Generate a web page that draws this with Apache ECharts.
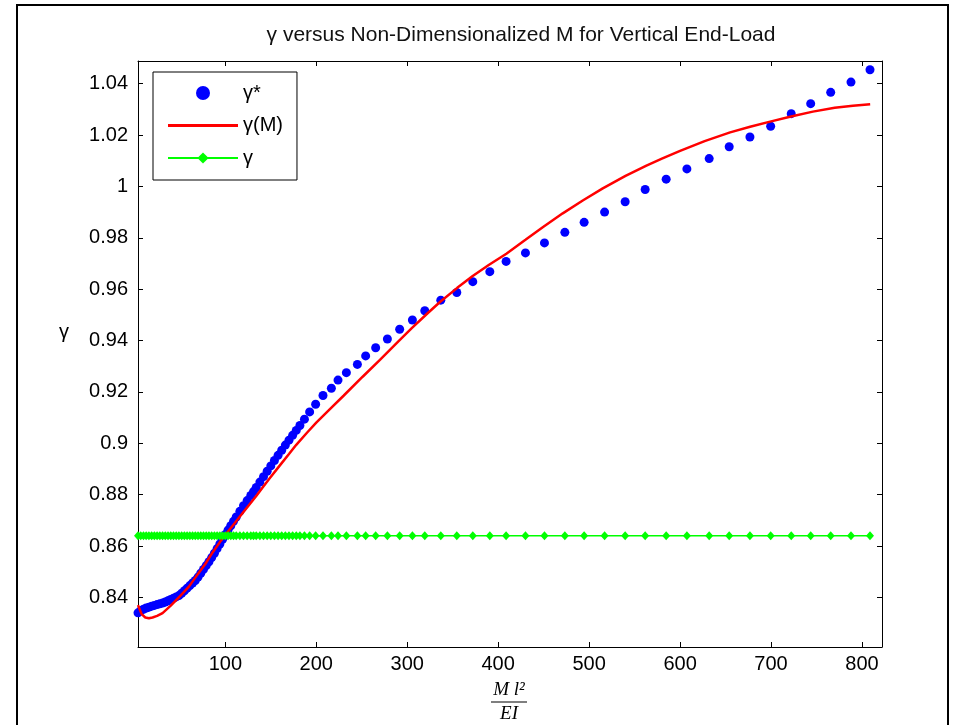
<!DOCTYPE html>
<html><head><meta charset="utf-8">
<script src="https://cdn.jsdelivr.net/npm/echarts@6/dist/echarts.min.js"></script>
<style>html,body{margin:0;padding:0;background:#fff}#c{width:964px;height:725px}</style>
</head><body><div id="c"></div>
<script>
const titleText = 'γ versus Non-Dimensionalized M for Vertical End-Load';
const seriesNames = ['γ*', 'γ(M)', 'γ'];
const xTicks = [100, 200, 300, 400, 500, 600, 700, 800];
const yTicks = [0.84, 0.86, 0.88, 0.9, 0.92, 0.94, 0.96, 0.98, 1, 1.02, 1.04];

// sample points (M l^2 / EI)
const sampleX = [
  4, 7, 10, 13, 16, 19, 22, 25, 28, 31,
  34, 37, 40, 43, 46, 49, 52, 55, 58, 61,
  64, 67, 70, 73, 76, 79, 82, 85, 88, 91,
  94, 97, 100, 103, 106, 109, 112, 116, 120, 124,
  128, 131, 134, 138, 142, 146, 150, 154, 158, 162,
  166, 170, 174, 178, 182, 187, 192.7, 199.3, 207.4, 216.6,
  223.9, 233.1, 245.2, 254.3, 265.3, 278.2, 291.7, 305.7, 319.3, 336.9,
  354.5, 372.1, 390.8, 408.7, 430.0, 450.9, 473.3, 494.5, 517.0, 539.6,
  561.6, 584.7, 607.5, 632.0, 654.0, 676.8, 699.6, 722.2, 743.6, 765.6,
  787.9, 808.8
];
// gamma* at each sample
const gammaStar = [
  0.8340, 0.8348, 0.8354, 0.8359, 0.8362, 0.8366, 0.8369, 0.8372, 0.8375, 0.8378,
  0.8382, 0.8387, 0.8392, 0.8397, 0.8402, 0.8407, 0.8416, 0.8426, 0.8436, 0.8446,
  0.8456, 0.8466, 0.8479, 0.8494, 0.8509, 0.8524, 0.8539, 0.8555, 0.8572, 0.8590,
  0.8608, 0.8626, 0.8645, 0.8662, 0.8679, 0.8696, 0.8713, 0.8735, 0.8757, 0.8777,
  0.8797, 0.8812, 0.8828, 0.8849, 0.8870, 0.8891, 0.8912, 0.8933, 0.8953, 0.8973,
  0.8993, 0.9012, 0.9031, 0.9050, 0.9069, 0.9094, 0.9122, 0.9152, 0.9186, 0.9214,
  0.9246, 0.9275, 0.9307, 0.9340, 0.9372, 0.9406, 0.9444, 0.9480, 0.9516, 0.9557,
  0.9587, 0.9629, 0.9668, 0.9708, 0.9741, 0.9780, 0.9821, 0.9860, 0.9900, 0.9940,
  0.9988, 1.0028, 1.0068, 1.0108, 1.0154, 1.0192, 1.0234, 1.0283, 1.0322, 1.0366,
  1.0406, 1.0454
];
// fitted curve gamma(M)
const fitX = [
  4, 8, 12, 16, 20, 25, 31, 40, 50, 60,
  68, 78, 86, 95, 101, 110, 116, 125, 134, 141,
  149, 160, 170, 178, 190, 200, 215, 230, 251, 270,
  290, 305, 323, 336, 355, 372, 390, 409, 430, 449,
  471, 493, 515, 540, 563, 580, 600, 627, 655, 677,
  699, 722, 746, 770, 790, 809
];
const fitY = [
  0.8370, 0.8335, 0.8322, 0.8319, 0.8322, 0.8328, 0.8339, 0.8368, 0.8404, 0.8442,
  0.8482, 0.8530, 0.8575, 0.8620, 0.8648, 0.8688, 0.8715, 0.8755, 0.8795, 0.8828,
  0.8865, 0.8914, 0.8958, 0.8994, 0.9042, 0.9080, 0.9133, 0.9185, 0.9259, 0.9325,
  0.9396, 0.9448, 0.9508, 0.9550, 0.9605, 0.9651, 0.9695, 0.9738, 0.9792, 0.9841,
  0.9895, 0.9945, 0.9992, 1.0041, 1.0081, 1.0108, 1.0138, 1.0176, 1.0210, 1.0232,
  1.0252, 1.0272, 1.0291, 1.0306, 1.0314, 1.0320
];
// constant gamma
const gammaConst = 0.864;

const FONT = '"Liberation Sans", Arial, sans-serif';
const chart = echarts.init(document.getElementById('c'), null, {renderer: 'canvas'});

const fmtY = v => String(Math.round(v * 100) / 100);
const axisBase = {
  type: 'value',
  axisLine: {show: true, onZero: false, lineStyle: {color: '#000', width: 1}},
  splitLine: {show: false}
};

chart.setOption({
  animation: false,
  backgroundColor: '#fff',
  title: {
    text: titleText,
    left: 516, top: 20, textAlign: 'center',
    textStyle: {fontFamily: FONT, fontSize: 21, fontWeight: 'normal', color: '#111'}
  },
  grid: {left: 138, right: 82, top: 61, bottom: 78, containLabel: false},
  legend: {
    orient: 'vertical', left: 153, top: 72,
    padding: [11, 14, 12, 14],
    itemWidth: 70, itemHeight: 14, itemGap: 12.5,
    borderColor: '#000', borderWidth: 1, backgroundColor: '#fff',
    textStyle: {fontFamily: FONT, fontSize: 20, color: '#000', lineHeight: 20},
    data: [
      {name: seriesNames[0], icon: 'circle', itemStyle: {color: '#0000ff'}},
      {name: seriesNames[1], icon: 'path://M0,0 L70,0 L70,3 L0,3 Z', itemStyle: {color: '#ff0000'}},
      {name: seriesNames[2]}
    ]
  },
  xAxis: [
    Object.assign({}, axisBase, {
      min: 4, max: 822, position: 'bottom',
      axisTick: {show: true, inside: true, length: 5, lineStyle: {color: '#000'}, customValues: xTicks},
      axisLabel: {show: true, customValues: xTicks, margin: 7, fontFamily: FONT, fontSize: 20, color: '#000'}
    }),
    Object.assign({}, axisBase, {
      min: 4, max: 822, position: 'top',
      axisTick: {show: true, inside: true, length: 5, lineStyle: {color: '#000'}, customValues: xTicks},
      axisLabel: {show: false}
    })
  ],
  yAxis: [
    Object.assign({}, axisBase, {
      min: 0.8207, max: 1.0488, position: 'left',
      axisTick: {show: true, inside: true, length: 5, lineStyle: {color: '#000'}, customValues: yTicks},
      axisLabel: {show: true, customValues: yTicks, margin: 10, formatter: fmtY, fontFamily: FONT, fontSize: 20, color: '#000'}
    }),
    Object.assign({}, axisBase, {
      min: 0.8207, max: 1.0488, position: 'right',
      axisTick: {show: true, inside: true, length: 5, lineStyle: {color: '#000'}, customValues: yTicks},
      axisLabel: {show: false}
    })
  ],
  series: [
    {
      name: seriesNames[0], type: 'scatter', clip: false,
      symbol: 'circle', symbolSize: 9,
      itemStyle: {color: '#0000ff', opacity: 1},
      data: sampleX.map((x, i) => [x, gammaStar[i]])
    },
    {
      name: seriesNames[1], type: 'line', clip: false,
      showSymbol: false, symbol: 'none',
      lineStyle: {color: '#ff0000', width: 2.5},
      itemStyle: {color: '#ff0000'},
      data: fitX.map((x, i) => [x, fitY[i]])
    },
    {
      name: seriesNames[2], type: 'line', clip: false,
      symbol: 'diamond', symbolSize: [8, 9], showSymbol: true,
      lineStyle: {color: '#00ff00', width: 1.5},
      itemStyle: {color: '#00ff00', opacity: 1},
      data: sampleX.map(x => [x, gammaConst])
    }
  ],
  graphic: [
    {type: 'rect', silent: true, z: 100,
     shape: {x: 17, y: 5, width: 931, height: 760},
     style: {fill: null, stroke: '#000', lineWidth: 2}},
    {type: 'text', x: 64, y: 332, silent: true,
     style: {text: 'γ', font: '20px ' + FONT, fill: '#000', align: 'center', verticalAlign: 'middle'}},
    {type: 'text', x: 509, y: 690, silent: true,
     style: {text: 'M l²', font: 'italic 19px "Liberation Serif", "Times New Roman", serif', fill: '#000', align: 'center', verticalAlign: 'middle'}},
    {type: 'line', silent: true,
     shape: {x1: 491, y1: 702, x2: 527, y2: 702},
     style: {stroke: '#000', lineWidth: 1.2}},
    {type: 'text', x: 509, y: 714, silent: true,
     style: {text: 'EI', font: 'italic 19px "Liberation Serif", "Times New Roman", serif', fill: '#000', align: 'center', verticalAlign: 'middle'}}
  ]
});
</script>
</body></html>
